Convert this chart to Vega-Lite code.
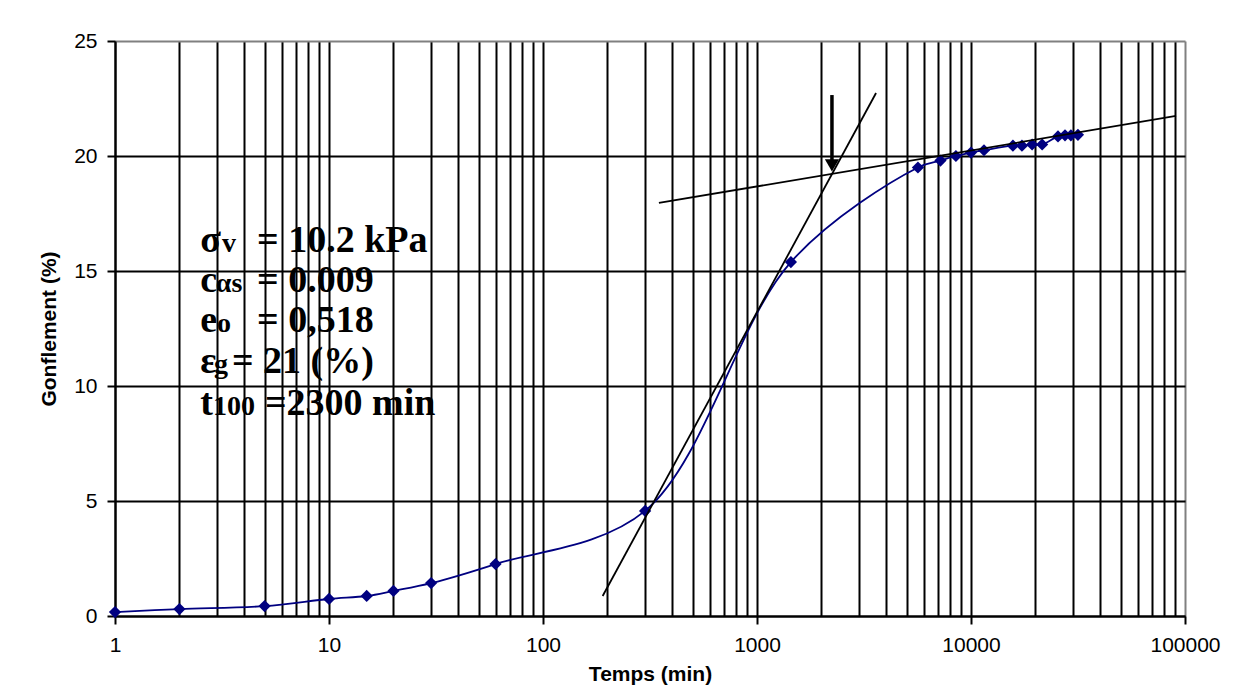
{
  "$schema": "https://vega.github.io/schema/vega-lite/v6.json",
  "width": 1070,
  "height": 575,
  "autosize": {"type": "none"},
  "padding": {"left": 115, "top": 41, "right": 59, "bottom": 74},
  "background": "white",
  "config": {
    "view": {"stroke": null},
    "font": "Liberation Sans"
  },
  "datasets": {
    "pts": [
      {"t": 1, "g": 0.17}, {"t": 2, "g": 0.30}, {"t": 5, "g": 0.43}, {"t": 10, "g": 0.74},
      {"t": 15, "g": 0.87}, {"t": 20, "g": 1.09}, {"t": 30, "g": 1.43}, {"t": 60, "g": 2.26},
      {"t": 300, "g": 4.57}, {"t": 1440, "g": 15.39}, {"t": 5650, "g": 19.5}, {"t": 7200, "g": 19.8},
      {"t": 8500, "g": 20.0}, {"t": 10000, "g": 20.15}, {"t": 11500, "g": 20.25}, {"t": 15700, "g": 20.45},
      {"t": 17300, "g": 20.45}, {"t": 19300, "g": 20.5}, {"t": 21500, "g": 20.5}, {"t": 25500, "g": 20.85},
      {"t": 27500, "g": 20.9}, {"t": 29300, "g": 20.9}, {"t": 31600, "g": 20.92}
    ],
    "tang": [
      {"id": "a", "t": 190, "g": 0.87}, {"id": "a", "t": 3600, "g": 22.74},
      {"id": "b", "t": 348, "g": 17.96}, {"id": "b", "t": 90800, "g": 21.74}
    ],
    "arrow": [{"t": 2240, "g": 22.65, "g2": 19.8, "tip": 19.59}],
    "big": [
      {"t": 2.5, "g": 15.83, "txt": "σ"}, {"t": 4.61, "g": 15.83, "txt": "= 10.2 kPa"},
      {"t": 2.5, "g": 14.09, "txt": "c"}, {"t": 4.61, "g": 14.09, "txt": "= 0.009"},
      {"t": 2.5, "g": 12.35, "txt": "e"}, {"t": 4.61, "g": 12.35, "txt": "= 0,518"},
      {"t": 2.5, "g": 10.57, "txt": "ε"}, {"t": 3.52, "g": 10.57, "txt": "= 21 (%)"},
      {"t": 2.5, "g": 8.74, "txt": "t"}, {"t": 5.02, "g": 8.74, "txt": "=2300 min"}
    ],
    "sub": [
      {"t": 3.16, "g": 15.83, "txt": "v"},
      {"t": 2.96, "g": 14.09, "txt": "αs"},
      {"t": 3.0, "g": 12.35, "txt": "o"},
      {"t": 2.9, "g": 10.57, "txt": "g"},
      {"t": 2.87, "g": 8.74, "txt": "100"}
    ]
  },
  "layer": [
    {
      "data": {"name": "pts"},
      "mark": {"type": "line", "interpolate": "catmull-rom", "color": "#000080", "strokeWidth": 1.8},
      "encoding": {
        "x": {
          "field": "t", "type": "quantitative",
          "scale": {"type": "log", "domain": [1, 100000], "nice": false},
          "axis": {
            "title": "Temps (min)",
            "titleFont": "Liberation Sans", "titleFontSize": 21, "titleFontWeight": "bold", "titleColor": "black",
            "titlePadding": 8,
            "values": [1,2,3,4,5,6,7,8,9,10,20,30,40,50,60,70,80,90,100,200,300,400,500,600,700,800,900,1000,2000,3000,4000,5000,6000,7000,8000,9000,10000,20000,30000,40000,50000,60000,70000,80000,90000,100000],
            "labelExpr": "indexof([1,10,100,1000,10000,100000], datum.value) >= 0 ? format(datum.value, 'd') : ''",
            "labelOverlap": false, "labelFlush": false, "labelBound": false,
            "labelFont": "Liberation Sans", "labelFontSize": 21, "labelColor": "black", "labelPadding": 10,
            "domainColor": "black", "domainWidth": 2,
            "tickSize": 8, "tickWidth": 2,
            "tickColor": {"condition": {"test": "indexof([1,10,100,1000,10000,100000], datum.value) >= 0", "value": "black"}, "value": "transparent"},
            "grid": true, "gridWidth": 2, "gridOpacity": 1,
            "gridColor": {"condition": {"test": "datum.value == 100000", "value": "#808080"}, "value": "black"}
          }
        },
        "y": {
          "field": "g", "type": "quantitative",
          "scale": {"domain": [0, 25], "nice": false},
          "axis": {
            "title": "Gonflement (%)",
            "titleFont": "Liberation Sans", "titleFontSize": 21, "titleFontWeight": "bold", "titleColor": "black",
            "titlePadding": 14,
            "values": [0, 5, 10, 15, 20, 25],
            "labelFont": "Liberation Sans", "labelFontSize": 21, "labelColor": "black", "labelPadding": 10,
            "domainColor": "black", "domainWidth": 2,
            "tickSize": 8, "tickWidth": 2, "tickColor": "black",
            "grid": true, "gridWidth": 2, "gridOpacity": 1,
            "gridColor": {"condition": {"test": "datum.value == 25", "value": "#808080"}, "value": "black"}
          }
        }
      }
    },
    {
      "data": {"name": "pts"},
      "mark": {"type": "point", "shape": "diamond", "filled": true, "size": 150, "color": "#000080", "opacity": 1},
      "encoding": {
        "x": {"field": "t", "type": "quantitative"},
        "y": {"field": "g", "type": "quantitative"}
      }
    },
    {
      "data": {"name": "tang"},
      "mark": {"type": "line", "color": "black", "strokeWidth": 1.8},
      "encoding": {
        "x": {"field": "t", "type": "quantitative"},
        "y": {"field": "g", "type": "quantitative"},
        "detail": {"field": "id"}
      }
    },
    {
      "data": {"name": "arrow"},
      "mark": {"type": "rule", "color": "black", "strokeWidth": 3.5},
      "encoding": {
        "x": {"field": "t", "type": "quantitative"},
        "y": {"field": "g", "type": "quantitative"},
        "y2": {"field": "g2"}
      }
    },
    {
      "data": {"name": "arrow"},
      "mark": {"type": "point", "shape": "triangle-down", "filled": true, "size": 200, "color": "black", "opacity": 1},
      "encoding": {
        "x": {"field": "t", "type": "quantitative"},
        "y": {"field": "tip", "type": "quantitative"}
      }
    },
    {
      "data": {"name": "big"},
      "mark": {"type": "text", "font": "Liberation Serif", "fontWeight": "bold", "fontSize": 38, "align": "left", "baseline": "alphabetic", "color": "black"},
      "encoding": {
        "x": {"field": "t", "type": "quantitative"},
        "y": {"field": "g", "type": "quantitative"},
        "text": {"field": "txt"}
      }
    },
    {
      "data": {"name": "sub"},
      "mark": {"type": "text", "font": "Liberation Serif", "fontWeight": "bold", "fontSize": 28, "align": "left", "baseline": "alphabetic", "color": "black"},
      "encoding": {
        "x": {"field": "t", "type": "quantitative"},
        "y": {"field": "g", "type": "quantitative"},
        "text": {"field": "txt"}
      }
    }
  ]
}
